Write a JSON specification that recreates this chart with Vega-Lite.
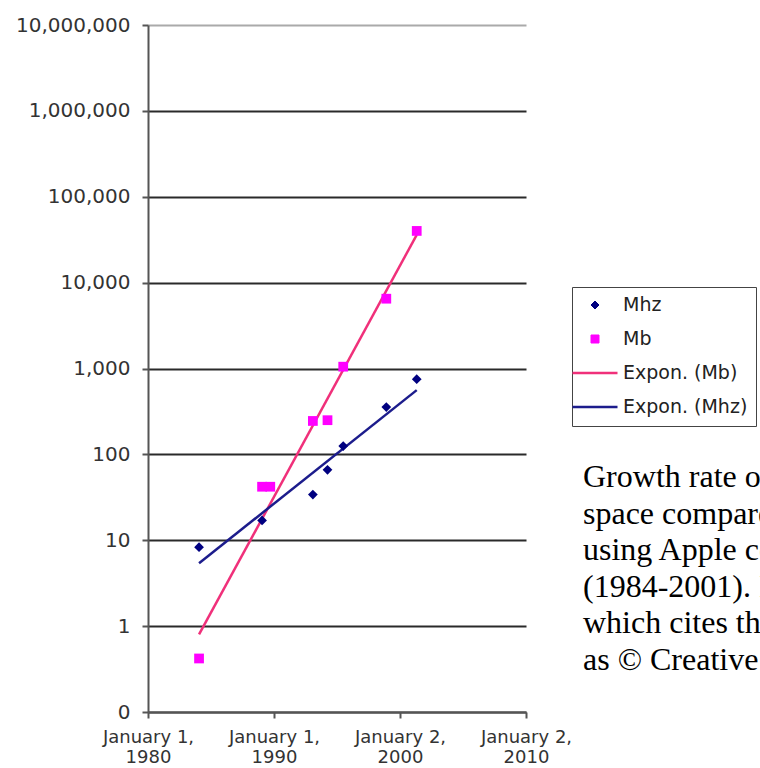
{
  "$schema": "https://vega.github.io/schema/vega-lite/v6.json",
  "width": 378,
  "height": 687,
  "autosize": {"type": "none"},
  "padding": {"left": 148, "top": 25, "right": 234, "bottom": 56},
  "background": "#ffffff",
  "title": {
    "text": ["Growth rate of hard disk", "space compared to CPU speed,", "using Apple computers", "(1984-2001). Image from the web,", "which cites the source data", "as © Creative Commons."],
    "orient": "bottom",
    "anchor": "start",
    "frame": "group",
    "font": "Liberation Serif",
    "fontSize": 32,
    "fontWeight": "normal",
    "color": "#000000",
    "lineHeight": 36.6,
    "baseline": "top",
    "offset": 0,
    "dx": 435,
    "dy": -304
  },
  "config": {
    "view": {"stroke": null},
    "axis": {"labelFont": "DejaVu Sans", "labelFontSize": 20, "labelColor": "#333333", "domainColor": "#555555", "domainWidth": 2, "tickColor": "#555555", "tickWidth": 2, "tickSize": 6, "title": null},
    "legend": {"labelFont": "DejaVu Sans", "labelFontSize": 19, "labelColor": "#222222"}
  },
  "datasets": {
    "points": [
      {"date": "1984-01-20", "value": 8.3, "series": "Mhz"},
      {"date": "1989-01-20", "value": 17, "series": "Mhz"},
      {"date": "1993-02-01", "value": 34, "series": "Mhz"},
      {"date": "1994-04-01", "value": 66, "series": "Mhz"},
      {"date": "1995-07-01", "value": 125, "series": "Mhz"},
      {"date": "1998-12-01", "value": 355, "series": "Mhz"},
      {"date": "2001-05-01", "value": 750, "series": "Mhz"},
      {"date": "1984-01-20", "value": 0.42, "series": "Mb"},
      {"date": "1989-01-20", "value": 42, "series": "Mb"},
      {"date": "1989-09-15", "value": 42, "series": "Mb"},
      {"date": "1993-02-01", "value": 245, "series": "Mb"},
      {"date": "1994-04-01", "value": 250, "series": "Mb"},
      {"date": "1995-07-01", "value": 1050, "series": "Mb"},
      {"date": "1998-12-01", "value": 6500, "series": "Mb"},
      {"date": "2001-05-01", "value": 40000, "series": "Mb"}
    ],
    "trends": [
      {"date": "1984-01-20", "value": 0.8, "series": "Expon. (Mb)"},
      {"date": "2001-05-01", "value": 36000, "series": "Expon. (Mb)"},
      {"date": "1984-01-20", "value": 5.4, "series": "Expon. (Mhz)"},
      {"date": "2001-05-01", "value": 560, "series": "Expon. (Mhz)"}
    ]
  },
  "encoding": {
    "x": {
      "field": "date",
      "type": "temporal",
      "scale": {"type": "utc", "domain": [{"year": 1980, "month": 1, "date": 1, "utc": true}, {"year": 2010, "month": 1, "date": 2, "utc": true}], "nice": false},
      "axis": {
        "values": [{"year": 1980, "month": 1, "date": 1, "utc": true}, {"year": 1990, "month": 1, "date": 1, "utc": true}, {"year": 2000, "month": 1, "date": 2, "utc": true}, {"year": 2010, "month": 1, "date": 2, "utc": true}],
        "labelExpr": "[utcFormat(datum.value, '%B %-d,'), utcFormat(datum.value, '%Y')]",
        "labelFontSize": 18,
        "labelLineHeight": 20,
        "labelPadding": 10,
        "labelFlush": false,
        "labelOverlap": false,
        "grid": false
      }
    },
    "y": {
      "field": "value",
      "type": "quantitative",
      "scale": {"type": "log", "domain": [0.1, 10000000], "nice": false},
      "axis": {
        "values": [0.1, 1, 10, 100, 1000, 10000, 100000, 1000000, 10000000],
        "format": ",.0f",
        "labelPadding": 12,
        "grid": true,
        "gridColor": {"condition": {"test": "datum.value >= 9000000", "value": "#aaaaaa"}, "value": "#2a2a2a"},
        "gridWidth": 2
      }
    },
    "color": {
      "field": "series",
      "type": "nominal",
      "scale": {"domain": ["Mhz", "Mb", "Expon. (Mb)", "Expon. (Mhz)"], "range": ["#000080", "#FF00FF", "#F0307A", "#1C1C8C"]},
      "legend": {
        "title": null,
        "orient": "none",
        "legendX": 424,
        "legendY": 262,
        "strokeColor": "#444444",
        "fillColor": "#ffffff",
        "padding": 8.5,
        "rowPadding": 14,
        "symbolSize": 100,
        "symbolStrokeWidth": 2,
        "symbolOffset": 5,
        "labelOffset": 18.5,
        "encode": {
          "symbols": {
            "update": {
              "size": {"signal": "datum.value == 'Mhz' || datum.value == 'Mb' ? 64 : 2025"},
              "stroke": {"scale": "color", "field": "value"},
              "fill": {"scale": "color", "field": "value"},
              "strokeWidth": {"signal": "datum.value == 'Mhz' || datum.value == 'Mb' ? 1 : 2.5"},
              "opacity": {"value": 1}
            }
          }
        }
      }
    }
  },
  "layer": [
    {
      "data": {"name": "trends"},
      "mark": {"type": "line", "strokeWidth": 2.5},
      "encoding": {}
    },
    {
      "data": {"name": "points"},
      "mark": {"type": "point", "filled": true, "opacity": 1, "size": 95},
      "encoding": {
        "shape": {
          "field": "series",
          "type": "nominal",
          "scale": {"domain": ["Mhz", "Mb", "Expon. (Mb)", "Expon. (Mhz)"], "range": ["diamond", "square", "stroke", "stroke"]},
          "legend": {"title": null}
        }
      }
    }
  ]
}
